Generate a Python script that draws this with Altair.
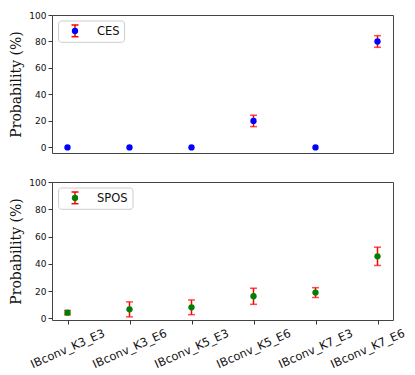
import altair as alt
import pandas as pd

categories = ["IBconv_K3_E3", "IBconv_K3_E6", "IBconv_K5_E3",
              "IBconv_K5_E6", "IBconv_K7_E3", "IBconv_K7_E6"]
ces_mean = [0, 0, 0, 20, 0, 80]
ces_err = [0, 0, 0, 4.3, 0, 4.4]
spos_mean = [4.2, 6.6, 8.1, 16.2, 18.9, 45.5]
spos_err = [1.6, 5.5, 5.4, 5.9, 3.6, 6.7]
yticks = [0, 20, 40, 60, 80, 100]

W, H = 341, 138


def panel(mean, err, color, label, ymin, show_x, legend_w):
    df = pd.DataFrame({"cat": categories, "mean": mean, "err": err})
    df["lo"] = df["mean"] - df["err"]
    df["hi"] = df["mean"] + df["err"]
    df_err = df[df["err"] > 0]

    if show_x:
        last = categories[-1]
        xaxis = alt.Axis(title=None, labelAngle=-24, labelAlign="center",
                         labelBaseline="middle", labelPadding=25,
                         labelFontSize=11.5, labelColor="#111",
                         labelFont="DejaVu Sans", labelOverlap=False,
                         labelLimit=300,
                         labelOffset={"condition": {
                             "test": f"datum.value === '{last}'",
                             "value": -10}, "value": 0},
                         tickSize=4, tickColor="#333", domain=False)
    else:
        xaxis = alt.Axis(title=None, labels=False, ticks=False, domain=False)

    x = alt.X("cat:N", sort=categories, axis=xaxis,
              scale=alt.Scale(type="point", padding=0.25))
    yscale = alt.Scale(domain=[ymin, 100], nice=False, zero=False)
    yaxis = alt.Axis(title="Probability (%)", values=yticks, tickCount=6,
                     grid=False, domain=False, tickSize=4, tickColor="#333",
                     labelFontSize=9, labelColor="#111", labelPadding=2,
                     labelFont="DejaVu Sans", labelOverlap=False,
                     labelFlush=False,
                     titleFont="DejaVu Serif", titleFontSize=14,
                     titleFontWeight="normal", titleColor="#111",
                     titlePadding=5)

    pts = alt.Chart(df).mark_point(filled=True, color=color, opacity=1,
                                   size=40).encode(
        x=x, y=alt.Y("mean:Q", scale=yscale, axis=yaxis))
    base = alt.Chart(df_err)
    bars = base.mark_rule(color="red", strokeWidth=1.5).encode(
        x=x, y=alt.Y("lo:Q", scale=yscale, axis=yaxis), y2="hi:Q")
    cap_lo = base.mark_tick(color="red", thickness=1.5, size=7).encode(
        x=x, y=alt.Y("lo:Q", scale=yscale, axis=yaxis))
    cap_hi = base.mark_tick(color="red", thickness=1.5, size=7).encode(
        x=x, y=alt.Y("hi:Q", scale=yscale, axis=yaxis))

    one = alt.Chart(pd.DataFrame({"t": [label]}))
    lbox = one.mark_rect(fill="white", stroke="#cccccc", strokeWidth=1,
                         cornerRadius=3).encode(
        x=alt.value(6.6), x2=alt.value(6.6 + legend_w),
        y=alt.value(6), y2=alt.value(27.3))
    lbar = one.mark_rule(color="red", strokeWidth=1.5).encode(
        x=alt.value(23), y=alt.value(10), y2=alt.value(21.7))
    lcap1 = one.mark_rule(color="red", strokeWidth=1.5).encode(
        x=alt.value(19.5), x2=alt.value(26.5), y=alt.value(10))
    lcap2 = one.mark_rule(color="red", strokeWidth=1.5).encode(
        x=alt.value(19.5), x2=alt.value(26.5), y=alt.value(21.7))
    lpt = one.mark_point(filled=True, color=color, opacity=1, size=40).encode(
        x=alt.value(23), y=alt.value(16))
    ltxt = one.mark_text(align="left", baseline="middle", fontSize=11.5,
                         font="DejaVu Sans", color="#111").encode(
        x=alt.value(45), y=alt.value(16.5), text="t:N")

    return alt.layer(bars, cap_lo, cap_hi, pts, lbox, lbar, lcap1, lcap2,
                     lpt, ltxt).properties(width=W, height=H)


top = panel(ces_mean, ces_err, "#0000ff", "CES", -4.2, False, 66)
bottom = panel(spos_mean, spos_err, "#008000", "SPOS", -1.2, True, 74.4)

chart = alt.vconcat(top, bottom, spacing=23).properties(
    padding={"left": 1, "top": 2, "right": 0, "bottom": 0}
).configure_view(stroke="#444444", strokeWidth=1).configure_axisY(
    labelOverlap=False, values=yticks
)

chart.save("out.html", embed_options={"renderer": "svg", "actions": False})
